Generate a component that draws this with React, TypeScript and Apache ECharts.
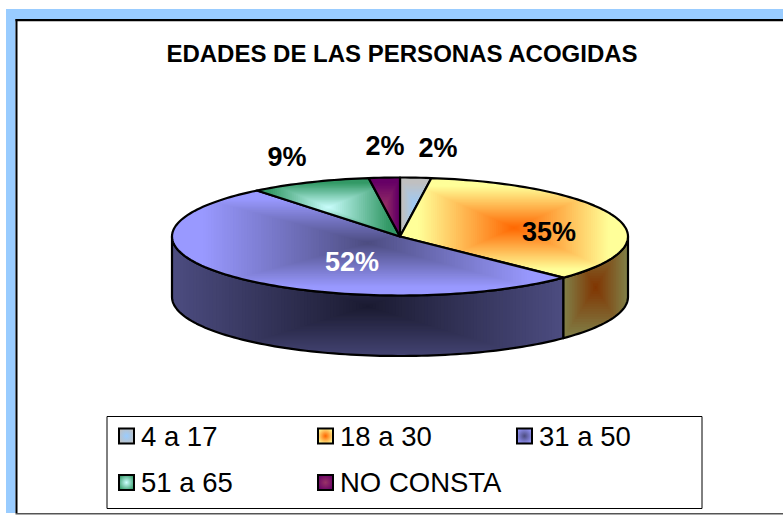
import React, { useEffect, useRef } from "react";
import * as echarts from "echarts";

const W = 783;
const H = 515;

const titleText = "EDADES DE LAS PERSONAS ACOGIDAS";
const categories = ["4 a 17", "18 a 30", "31 a 50", "51 a 65", "NO CONSTA"];
const values = [2.2, 35.1, 51.9, 8.6, 2.2];
const percentLabels = ["2%", "35%", "52%", "9%", "2%"];

const centerColors = ["#99CCFF", "#FF6600", "#4C4C80", "#CCFFFF", "#993366"];
const edgeColors = ["#C0C0C0", "#FFFF99", "#9999FF", "#339966", "#660066"];
const sideCenterColors = ["#4C6680", "#803300", "#1A1A30", "#668080", "#4C1A33"];
const sideEdgeColors = ["#606060", "#808048", "#4C4C80", "#1A4C33", "#330033"];
const labelColors = ["#000000", "#000000", "#FFFFFF", "#000000", "#000000"];
const labelAnchors = [[438, 148], [549, 232], [352, 262], [287, 157], [385, 146]];

const CX = 400;
const CY = 236.5;
const RX = 228;
const RY = 59;
const DEPTH = 60.5;
const FONT = '"Liberation Sans", Arial, sans-serif';

type RGB = [number, number, number];
const hex = (c: string): RGB => [1, 3, 5].map((i) => parseInt(c.slice(i, i + 2), 16)) as RGB;
const mix = (a: string, b: string, t: number) => {
  const ca = hex(a);
  const cb = hex(b);
  return `rgb(${ca.map((v, i) => Math.round(v + (cb[i] - v) * t)).join(",")})`;
};
const px = (a: number, dy = 0) => [CX + RX * Math.sin(a), CY - RY * Math.cos(a) + dy];

function arcPoints(a0: number, a1: number, dy = 0) {
  const n = Math.max(2, Math.ceil(((a1 - a0) / Math.PI) * 120));
  const pts: number[][] = [];
  for (let i = 0; i <= n; i++) pts.push(px(a0 + ((a1 - a0) * i) / n, dy));
  return pts;
}
const toPath = (pts: number[][]) =>
  pts.map((p, i) => `${i ? "L" : "M"}${p[0].toFixed(2)} ${p[1].toFixed(2)}`).join("") + "Z";
function bounds(pts: number[][]) {
  const xs = pts.map((p) => p[0]);
  const ys = pts.map((p) => p[1]);
  return [Math.min(...xs), Math.min(...ys), Math.max(...xs), Math.max(...ys)];
}

// Clip a polygon to an axis-aligned box (Sutherland-Hodgman)
function clipToBox(poly: number[][], x0: number, y0: number, x1: number, y1: number) {
  const edges: [(p: number[]) => boolean, number, number][] = [
    [(p) => p[0] >= x0, 0, x0],
    [(p) => p[0] <= x1, 0, x1],
    [(p) => p[1] >= y0, 1, y0],
    [(p) => p[1] <= y1, 1, y1],
  ];
  let out = poly;
  for (const [inside, axis, v] of edges) {
    const input = out;
    out = [];
    for (let i = 0; i < input.length; i++) {
      const a = input[i];
      const b = input[(i + 1) % input.length];
      const ia = inside(a);
      const ib = inside(b);
      if (ia) out.push(a);
      if (ia !== ib) {
        const t = (v - a[axis]) / (b[axis] - a[axis]);
        out.push([a[0] + (b[0] - a[0]) * t, a[1] + (b[1] - a[1]) * t]);
      }
    }
    if (!out.length) return out;
  }
  return out;
}

// Rectangular "from centre" gradient drawn as nested bands of one shape
function gradientBands(poly: number[][], inner: string, outer: string, z2: number, cyShift = 0, reach = 0.85) {
  const [x0, y0, x1, y1] = bounds(poly);
  const cx = (x0 + x1) / 2;
  const cy = (y0 + y1) / 2 + cyShift;
  const hw = (x1 - x0) / 2;
  const hh = (y1 - y0) / 2;
  const steps = Math.min(60, Math.max(16, Math.round(Math.max(hw, hh) / 2.5)));
  const list: any[] = [
    { type: "path", z2, shape: { pathData: toPath(poly) }, style: { fill: outer, stroke: "none" } },
  ];
  for (let i = steps - 1; i >= 0; i--) {
    const t = (i + 0.5) / steps;
    const r = t * reach;
    const band = clipToBox(poly, cx - hw * r, cy - hh * r, cx + hw * r, cy + hh * r);
    if (band.length < 3) continue;
    list.push({
      type: "path",
      z2,
      shape: { pathData: toPath(band) },
      style: { fill: mix(inner, outer, t), stroke: "none" },
    });
  }
  list.push({
    type: "path",
    z2,
    shape: { pathData: toPath(poly) },
    style: { fill: "none", stroke: "#000000", lineWidth: 2.2, lineJoin: "round" },
  });
  return list;
}

export default function App() {
  const ref = useRef<HTMLDivElement>(null);
  useEffect(() => {
    if (!ref.current) return;
    const chart = echarts.init(ref.current, undefined, { renderer: "svg" });
    const total = values.reduce((s, v) => s + v, 0);
    const starts: number[] = [];
    values.reduce((s, v, i) => {
      starts[i] = s;
      return s + v;
    }, 0);

    const series = categories.map((name, idx) => ({
      type: "custom",
      name,
      coordinateSystem: "none",
      silent: true,
      clip: false,
      data: [[values[idx]]],
      renderItem: (_p: any, api: any) => {
        const a0 = (starts[idx] / total) * Math.PI * 2;
        const a1 = a0 + (api.value(0) / total) * Math.PI * 2;
        const topPts = [[CX, CY], ...arcPoints(a0, a1)];
        const children: any[] = [];
        const s0 = Math.max(a0, Math.PI / 2);
        const s1 = Math.min(a1, (Math.PI * 3) / 2);
        if (s1 > s0) {
          const sidePts = [...arcPoints(s0, s1), ...arcPoints(s0, s1, DEPTH).reverse()];
          children.push(
            ...gradientBands(sidePts, sideCenterColors[idx], sideEdgeColors[idx], 1, idx === 2 ? 10 : 0, 1)
          );
        }
        children.push(...gradientBands(topPts, centerColors[idx], edgeColors[idx], 2));
        children.push({
          type: "text",
          z2: 10,
          style: {
            text: percentLabels[idx],
            x: labelAnchors[idx][0],
            y: labelAnchors[idx][1],
            align: "center",
            verticalAlign: "middle",
            fill: labelColors[idx],
            font: `bold 27px ${FONT}`,
          },
        });
        return { type: "group", children };
      },
    }));

    const legendItem = (i: number) => ({
      name: categories[i],
      icon: "rect",
      itemStyle: {
        color: new echarts.graphic.RadialGradient(0.5, 0.5, 0.6, [
          { offset: 0, color: centerColors[i] },
          { offset: 1, color: edgeColors[i] },
        ]),
        borderColor: "#000000",
        borderWidth: 2,
      },
    });
    const legendBase = {
      orient: "vertical",
      selectedMode: false,
      padding: 0,
      itemWidth: 15,
      itemHeight: 15,
      itemGap: 18.5,
      top: 422,
      textStyle: { fontFamily: FONT, fontSize: 27.5, color: "#000000", padding: [0, 0, 0, 2] },
    };

    chart.setOption({
      animation: false,
      backgroundColor: "#FFFFFF",
      title: {
        text: titleText,
        left: 397,
        top: 36,
        textAlign: "center",
        textStyle: { fontFamily: FONT, fontSize: 24, fontWeight: "bold", color: "#000000" },
      },
      legend: [
        { ...legendBase, left: 118, data: [legendItem(0), legendItem(3)] },
        { ...legendBase, left: 317, data: [legendItem(1), legendItem(4)] },
        { ...legendBase, left: 516, data: [legendItem(2)] },
      ],
      graphic: [
        { type: "rect", z: -10, shape: { x: 6, y: 9, width: 777, height: 10 }, style: { fill: "#99CCFF" } },
        { type: "rect", z: -10, shape: { x: 6, y: 9, width: 9.5, height: 504 }, style: { fill: "#99CCFF" } },
        { type: "rect", z: -9, shape: { x: 15.5, y: 19, width: 768, height: 2.2 }, style: { fill: "#000000" } },
        { type: "rect", z: -9, shape: { x: 15.5, y: 19, width: 2, height: 494 }, style: { fill: "#000000" } },
        { type: "rect", z: -9, shape: { x: 15.5, y: 513, width: 768, height: 1.5 }, style: { fill: "#555555" } },
        {
          type: "rect",
          z: -5,
          shape: { x: 107, y: 416.5, width: 595, height: 92 },
          style: { fill: "#FFFFFF", stroke: "#000000", lineWidth: 1 },
        },
      ],
      series,
    });
    return () => chart.dispose();
  }, []);
  return <div ref={ref} style={{ position: "absolute", left: 0, top: 0, width: W, height: H }} />;
}
